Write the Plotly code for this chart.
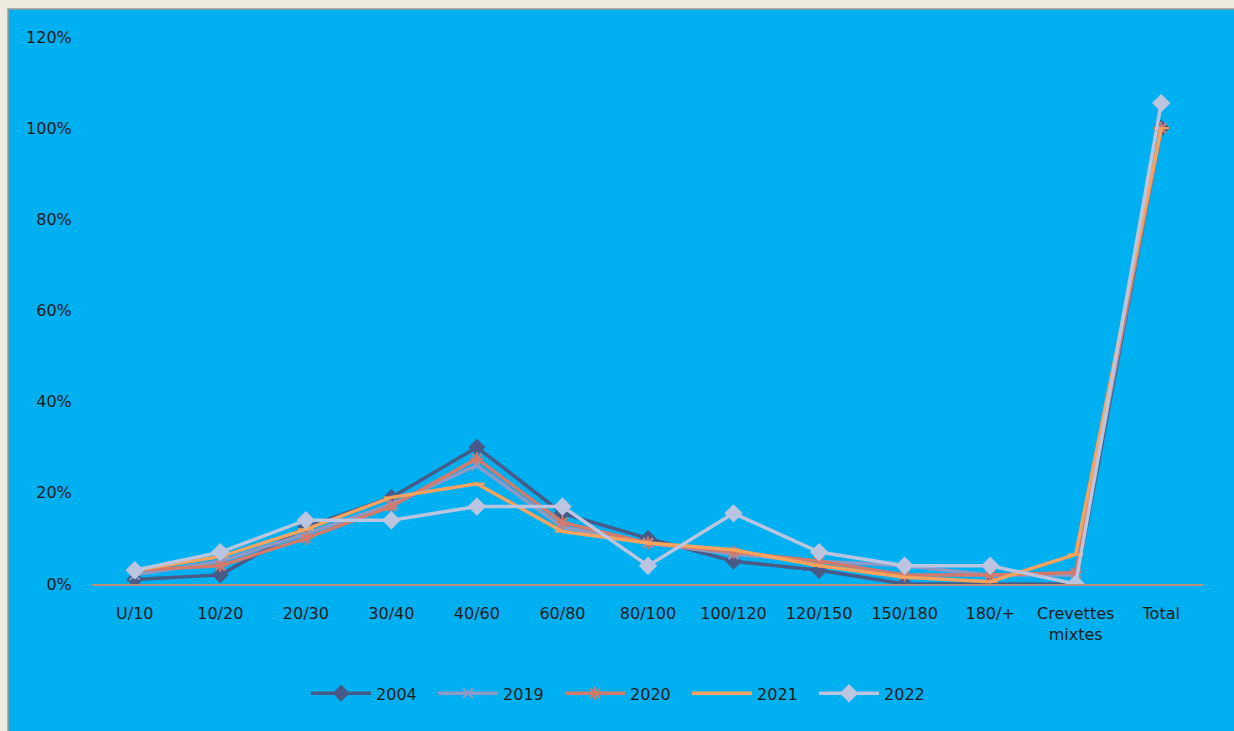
import plotly.graph_objs as go

categories = ["U/10", "10/20", "20/30", "30/40", "40/60", "60/80", "80/100",
              "100/120", "120/150", "150/180", "180/+", "Crevettes<br>mixtes", "Total"]

years = ["2004", "2019", "2020", "2021", "2022"]

share_2004 = [0.01, 0.02, 0.125, 0.19, 0.30, 0.155, 0.10, 0.05, 0.03, 0.0, 0.0, 0.0, 1.00]
share_2019 = [0.02, 0.05, 0.11, 0.175, 0.26, 0.125, 0.09, 0.065, 0.05, 0.04, 0.02, 0.02, 1.00]
share_2020 = [0.03, 0.04, 0.10, 0.17, 0.275, 0.135, 0.09, 0.07, 0.05, 0.02, 0.02, 0.025, 1.00]
share_2021 = [0.03, 0.06, 0.12, 0.19, 0.22, 0.115, 0.09, 0.075, 0.04, 0.015, 0.005, 0.065, 1.00]
share_2022 = [0.03, 0.07, 0.14, 0.14, 0.17, 0.17, 0.04, 0.155, 0.07, 0.04, 0.04, 0.0, 1.055]

series = dict(zip(years, [share_2004, share_2019, share_2020, share_2021, share_2022]))

colors = {"2004": "#475A88", "2019": "#8D9AC6", "2020": "#D27B6C",
          "2021": "#F7A35E", "2022": "#BCC5E0"}
symbols = {"2004": "diamond", "2019": "x-thin", "2020": "asterisk",
           "2021": "line-ew", "2022": "diamond"}
sizes = {"2004": 11, "2019": 10, "2020": 11, "2021": 11, "2022": 12}

font = dict(family="DejaVu Sans, sans-serif", size=16, color="#1a1a1a")

traces = []
for yr in years:
    c = colors[yr]
    traces.append(go.Scatter(
        x=categories,
        y=series[yr],
        name=yr,
        mode="lines+markers",
        line=dict(color=c, width=3.5),
        marker=dict(symbol=symbols[yr], size=sizes[yr], color=c,
                    line=dict(color=c, width=2)),
    ))

layout = go.Layout(
    width=1234, height=731,
    font=font,
    paper_bgcolor="#EEEBE1",
    plot_bgcolor="rgba(0,0,0,0)",
    margin=dict(l=92, r=30, t=37, b=147),
    showlegend=True,
    legend=dict(orientation="h", x=0.478, xanchor="center", y=-0.2, yanchor="middle",
                font=font, bgcolor="rgba(0,0,0,0)", itemwidth=60,
                entrywidth=52, entrywidthmode="pixels", tracegroupgap=0),
    xaxis=dict(showgrid=False, showline=True, linecolor="#B9917A", linewidth=2,
               ticks="outside", ticklen=14, tickcolor="rgba(0,0,0,0)",
               range=[-0.5, 12.5], zeroline=False),
    yaxis=dict(range=[0, 1.2], tickvals=[0, 0.2, 0.4, 0.6, 0.8, 1.0, 1.2],
               tickformat=".0%", showgrid=False, zeroline=False, showline=False,
               ticks="outside", ticklen=16, tickcolor="rgba(0,0,0,0)"),
    shapes=[dict(type="rect", xref="paper", yref="paper",
                 x0=-0.0755, x1=1.03, y0=-0.28, y1=1.0512,
                 fillcolor="#00B0F0", line=dict(color="#9A9A9A", width=1.5),
                 layer="below")],
)

fig = go.Figure(data=traces, layout=layout)
# drop the default page margin so the figure sits at the window's origin
fig.write_html("out.html",
               config={"displayModeBar": False},
               post_script="document.body.style.margin='0';"
                           "document.body.style.overflow='hidden';")
